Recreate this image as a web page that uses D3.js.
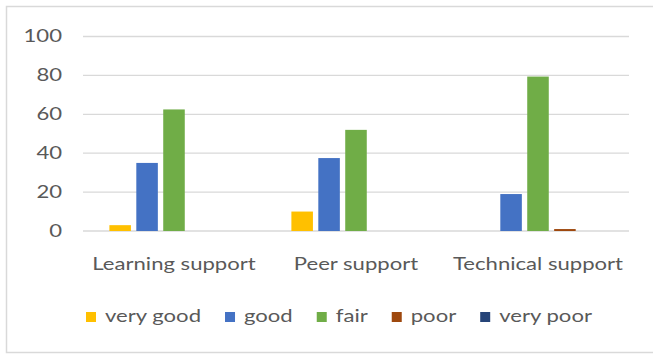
<!DOCTYPE html>
<html>
<head>
<meta charset="utf-8">
<script src="https://cdn.jsdelivr.net/npm/d3@7"></script>
<style>
  html, body { margin: 0; padding: 0; background: #fff; }
  svg { display: block; }
  text { font-family: Lato, "Open Sans", sans-serif; fill: #595959; }
</style>
</head>
<body>
<svg id="chart" width="653" height="354"></svg>
<script>
const categories = ["Learning support", "Peer support", "Technical support"];
const seriesNames = ["very good", "good", "fair", "poor", "very poor"];
const seriesColors = ["#FFC000", "#4472C4", "#70AD47", "#9E480E", "#264478"];
const veryGood = [3, 10, 0];
const good = [35, 37.5, 19];
const fair = [62.5, 52, 79.4];
const poor = [0, 0, 1];
const veryPoor = [0, 0, 0];
const yTicks = [0, 20, 40, 60, 80, 100];

const seriesValues = [veryGood, good, fair, poor, veryPoor];

const FS = 17;       // font size
const SX = 1.3;      // horizontal stretch of the text, as in the reference

const svg = d3.select("#chart");
const plot = { left: 83, right: 629, top: 36.5, bottom: 231 };

// outer frame
svg.append("rect")
  .attr("x", 6.5).attr("y", 6.5)
  .attr("width", 660).attr("height", 346)
  .attr("fill", "none").attr("stroke", "#d9d9d9").attr("stroke-width", 1.5);

const y = d3.scaleLinear().domain([0, 100]).range([plot.bottom, plot.top]);
const x0 = d3.scaleBand().domain(categories).range([plot.left, plot.right])
  .paddingInner(0.2308).paddingOuter(0.1154);
const x1 = d3.scaleBand().domain(seriesNames).range([0, x0.bandwidth()]).padding(0.2);

// gridlines
svg.append("g").selectAll("line").data(yTicks).join("line")
  .attr("x1", plot.left).attr("x2", plot.right)
  .attr("y1", d => y(d)).attr("y2", d => y(d))
  .attr("stroke", "#d9d9d9").attr("stroke-width", 1.3);

// y axis labels
const yAxis = d3.axisLeft(y).tickValues(yTicks).tickSize(0).tickPadding(0);
const yg = svg.append("g").attr("transform", `translate(${plot.left - 21},0)`).call(yAxis);
yg.select(".domain").remove();
yg.selectAll("text").attr("font-size", FS).attr("fill", "#595959")
  .style("font-family", "Lato, sans-serif")
  .attr("transform", `scale(${SX},1)`);

// bars
const groups = svg.append("g").selectAll("g").data(categories).join("g")
  .attr("transform", c => `translate(${x0(c)},0)`);
groups.selectAll("rect")
  .data((c, i) => seriesNames.map((s, k) => ({ s, k, v: seriesValues[k][i] })))
  .join("rect")
  .filter(d => d.v > 0)
  .attr("x", d => x1(d.s))
  .attr("width", x1.bandwidth())
  .attr("y", d => y(d.v))
  .attr("height", d => y(0) - y(d.v))
  .attr("fill", d => seriesColors[d.k]);

// category labels
const xAxis = d3.axisBottom(x0).tickSize(0).tickPadding(0);
const xg = svg.append("g").attr("transform", `translate(0,${plot.bottom + 27})`).call(xAxis);
xg.select(".domain").remove();
xg.selectAll("text").attr("font-size", FS).attr("fill", "#595959")
  .style("font-family", "Lato, sans-serif")
  .attr("transform", `scale(${SX},1)`);

// legend
const legend = svg.append("g");
let lx = 86;
seriesNames.forEach((name, k) => {
  const item = legend.append("g");
  item.append("rect").attr("x", lx).attr("y", 312).attr("width", 10).attr("height", 10)
    .attr("fill", seriesColors[k]);
  const tg = item.append("g").attr("transform", `translate(${lx + 19},322) scale(${SX},1)`);
  const t = tg.append("text").attr("x", 0).attr("y", 0)
    .attr("font-size", FS).text(name);
  const w = t.node().getComputedTextLength() * SX;
  lx += 19 + w + 24;
});
</script>
</body>
</html>
